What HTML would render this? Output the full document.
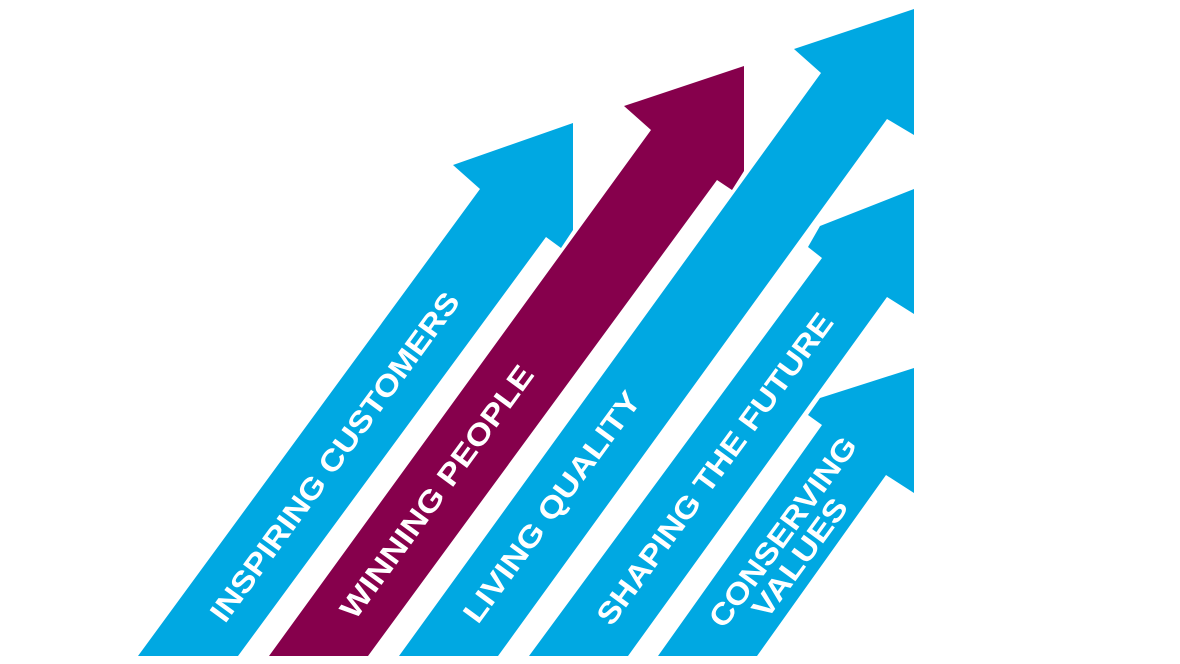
<!DOCTYPE html>
<html><head><style>html,body{margin:0;padding:0;background:#fff;width:1180px;height:664px;overflow:hidden}</style></head>
<body>
<svg width="1180" height="664" viewBox="0 0 1180 664" xmlns="http://www.w3.org/2000/svg">
<g fill="#00a8e2">
<polygon points="138,656 480,189 453,165 573,123 573,230 561,248 546,237 238,656"/>
<polygon points="399,656 821,73 794,49 914,9 914,135 887,119 498,656"/>
<polygon points="529,656 822,258 808,247 820,226 914,189 914,314 887,297 628,656"/>
<polygon points="658,656 822,425 808,415 820,398 914,368 914,493 886,475 757,656"/>
</g>
<polygon fill="#86004c" points="269,656 651,130 624,106 744,66 744,171 732,190 717,180 368,656"/>
<g fill="#fff" font-family="Liberation Sans, sans-serif" font-weight="bold" font-size="30" text-anchor="middle">
<text transform="translate(335,457) rotate(-53.8)" y="10" textLength="400" lengthAdjust="spacingAndGlyphs">INSPIRING CUSTOMERS</text>
<text transform="translate(437,492) rotate(-53.8)" y="10" textLength="305" lengthAdjust="spacingAndGlyphs">WINNING PEOPLE</text>
<text transform="translate(552,507) rotate(-53.8)" y="10" textLength="278" lengthAdjust="spacingAndGlyphs">LIVING QUALITY</text>
<text transform="translate(715,469) rotate(-53.8)" y="10" textLength="378" lengthAdjust="spacingAndGlyphs">SHAPING THE FUTURE</text>
<text transform="translate(783,532) rotate(-53.8)" y="10" textLength="228" lengthAdjust="spacingAndGlyphs">CONSERVING</text>
<text transform="translate(800,558) rotate(-53.8)" y="10" textLength="140" lengthAdjust="spacingAndGlyphs">VALUES</text>
</g>
</svg>
</body></html>
